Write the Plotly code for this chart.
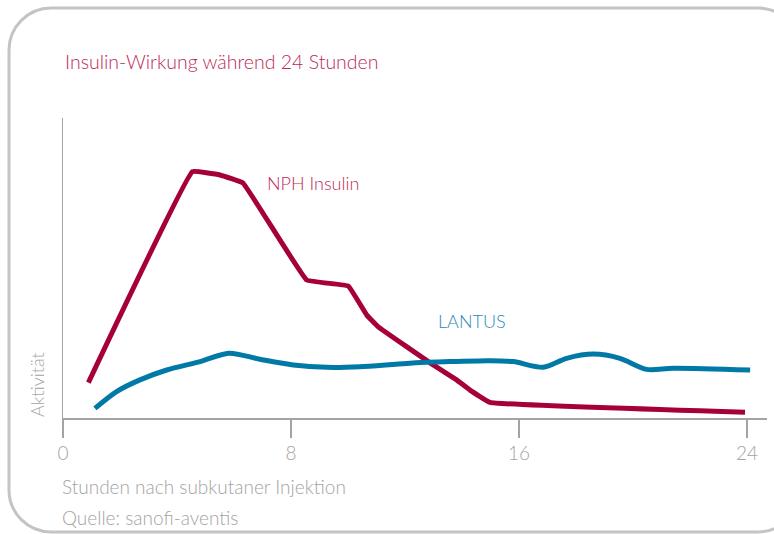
import plotly.graph_objects as go

# ---- data (hours after injection, relative activity 0..100) ----
nph_hours = [0.89, 4.54, 5.51, 6.32, 8.55, 10.01, 10.66, 11.06, 12.99, 13.81, 14.28, 14.98, 23.93]
nph_activity = [11.8, 82.1, 81.0, 78.3, 46.0, 44.0, 34.3, 30.4, 17.7, 12.7, 9.3, 5.2, 1.9]

lantus_hours = [1.12, 1.88, 2.70, 3.64, 4.81, 5.82, 6.91, 8.08, 9.25, 10.42, 12.06, 13.58,
                14.98, 15.80, 16.85, 17.67, 18.61, 19.54, 20.48, 21.41, 24.11]
lantus_activity = [3.2, 8.8, 12.7, 16.0, 18.8, 21.6, 19.6, 17.7, 16.9, 17.1, 18.2, 18.8,
                   19.1, 18.8, 16.9, 19.9, 21.3, 19.9, 16.2, 16.6, 16.0]

x_ticks = [0, 8, 16, 24]
x_tick_labels = ["0", "8", "16", "24"]

title_text = "Insulin-Wirkung während 24 Stunden"
x_title = "Stunden nach subkutaner Injektion"
y_title = "Aktivität"
source_text = "Quelle: sanofi-aventis"

# ---- layout geometry (pixels) ----
W, H = 774, 534
L, R, T, B = 63, 767, 118, 418

def px(x):
    return (x - L) / (R - L)

def py(y):
    return (B - y) / (B - T)

FONT = "Lato"
GRAY = "#a3a3a3"
RED = "#a6003a"
BLUE = "#0079a6"
TEXT_RED = "#bc2a55"
TEXT_BLUE = "#2a8bb6"

fig = go.Figure()
fig.add_trace(go.Scatter(x=nph_hours, y=nph_activity, mode="lines",
                         line=dict(color=RED, width=5, shape="spline", smoothing=0.2),
                         hoverinfo="skip"))
fig.add_trace(go.Scatter(x=lantus_hours, y=lantus_activity, mode="lines",
                         line=dict(color=BLUE, width=5, shape="spline", smoothing=0.8),
                         hoverinfo="skip"))

# rounded frame drawn as bezier path in pixel space, mapped to paper coords
r = 42
x0, y0, x1, y1 = 9, 8, 800, 532
k = 0.55 * r
def P(x, y):
    return f"{px(x):.5f},{py(y):.5f}"
path = (f"M {P(x0, y0 + r)} "
        f"C {P(x0, y0 + r - k)} {P(x0 + r - k, y0)} {P(x0 + r, y0)} "
        f"L {P(x1 - r, y0)} "
        f"C {P(x1 - r + k, y0)} {P(x1, y0 + r - k)} {P(x1, y0 + r)} "
        f"L {P(x1, y1 - r)} "
        f"C {P(x1, y1 - r + k)} {P(x1 - r + k, y1)} {P(x1 - r, y1)} "
        f"L {P(x0 + r, y1)} "
        f"C {P(x0 + r - k, y1)} {P(x0, y1 - r + k)} {P(x0, y1 - r)} Z")
fig.add_shape(type="path", path=path, xref="paper", yref="paper",
              line=dict(color="#c4c4c4", width=3), fillcolor="rgba(0,0,0,0)", layer="below")

def ann(text, x, y, size, color, xanchor="left", angle=0):
    fig.add_annotation(text=text, x=px(x), y=py(y), xref="paper", yref="paper",
                       showarrow=False, xanchor=xanchor, yanchor="middle",
                       textangle=angle,
                       font=dict(family=FONT, size=size, color=color, weight=300))

ann(title_text, 63, 62, 19.5, TEXT_RED)
ann("NPH Insulin", 265, 183, 18, TEXT_RED)
ann("LANTUS", 436, 321, 18, TEXT_BLUE)
ann(x_title, 60, 486, 19, GRAY)
ann(source_text, 60, 517, 19, GRAY)
ann(y_title, 37, 385, 18, GRAY, xanchor="center", angle=-90)

fig.update_layout(
    width=W, height=H,
    margin=dict(l=L, r=W - R, t=T, b=H - B),
    paper_bgcolor="white", plot_bgcolor="white",
    showlegend=False,
    xaxis=dict(range=[0, (R - L) / 28.5], tickvals=x_ticks, ticktext=x_tick_labels,
               showline=True, linecolor=GRAY, linewidth=1.5,
               ticks="outside", ticklen=18, tickwidth=1.5, tickcolor=GRAY,
               showgrid=False, zeroline=False,
               tickfont=dict(family=FONT, size=19, color=GRAY, weight=300)),
    yaxis=dict(range=[0, 100], showline=True, linecolor=GRAY, linewidth=1.5,
               showticklabels=False, ticks="", showgrid=False, zeroline=False),
)

fig.write_html("out.html",
               config={"displayModeBar": False, "staticPlot": True},
               post_script="document.body.style.margin='0';document.body.style.overflow='hidden';")
